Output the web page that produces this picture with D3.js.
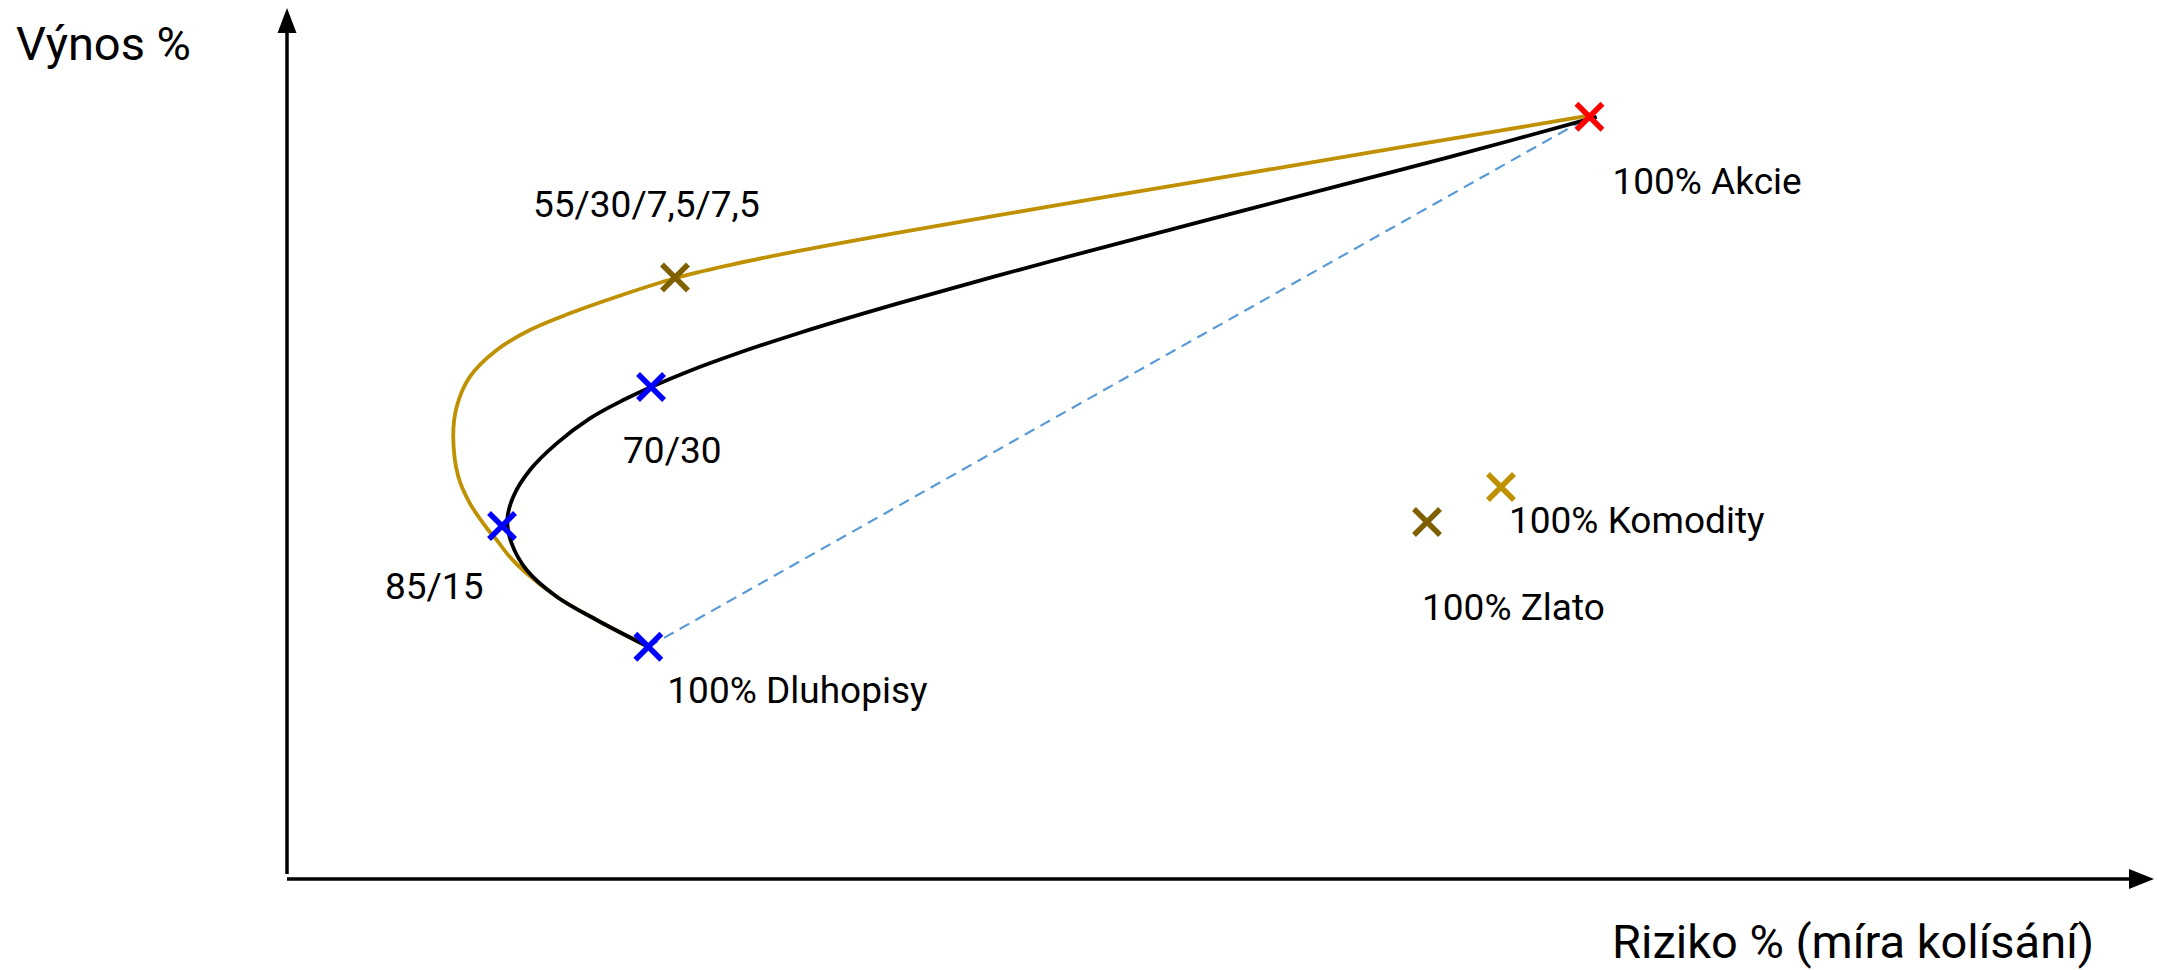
<!DOCTYPE html>
<html>
<head>
<meta charset="utf-8">
<script src="https://cdn.jsdelivr.net/npm/d3@7"></script>
<style>
  html, body { margin: 0; padding: 0; background: #fff; }
  svg { display: block; font-family: Roboto, "Noto Sans", sans-serif; }
</style>
</head>
<body>
<svg id="chart" width="2157" height="970"></svg>
<script>
// ---- Data (risk %, return %) on an abstract 0-100 scale ----
const axisTitles = { x: "Riziko % (míra kolísání)", y: "Výnos %" };

// Efficient frontier: bonds / stocks (black)
const frontierStocksBonds = [
  [19.93, 26.67], [17.08, 29.74], [14.88, 32.41], [13.22, 35.48], [12.39, 38.54],
  [12.15, 41.22], [12.48, 43.89], [13.40, 46.96], [14.88, 50.02], [16.71, 52.89],
  [18.55, 54.99], [20.12, 56.52], [22.23, 58.36], [24.43, 60.05], [28.30, 62.72],
  [33.81, 66.14], [42.08, 70.90], [50.36, 75.45], [58.63, 79.92], [64.15, 82.90],
  [72.24, 87.50]
];

// Frontier with commodities + gold (gold colour)
const frontierDiversified = [
  [19.93, 26.67], [17.08, 29.74], [14.88, 32.41], [13.10, 35.30], [12.20, 37.20],
  [11.57, 38.92], [11.10, 40.07], [10.09, 43.13], [9.45, 46.19], [9.17, 50.78],
  [9.36, 54.23], [10.09, 57.67], [11.57, 60.73], [13.40, 63.03], [15.61, 64.95],
  [18.19, 66.85], [21.40, 68.97], [24.43, 70.49], [28.30, 72.15], [33.81, 74.25],
  [42.08, 77.22], [50.36, 80.12], [58.63, 83.02], [66.91, 85.92], [72.04, 87.72]
];

// Straight (dashed) line bonds -> stocks
const directLine = [[19.93, 26.67], [71.84, 87.52]];

// Marked portfolios
const portfolioNames = ["100% Dluhopisy", "85/15", "70/30", "55/30/7,5/7,5", "100% Akcie", "100% Zlato", "100% Komodity"];
const portfolioRisk   = [19.93, 11.86, 20.08, 21.40, 71.84, 62.88, 66.96];
const portfolioReturn = [26.67, 40.53, 56.49, 69.06, 87.52, 40.99, 45.01];

// ---- Layout / style ----
const svg = d3.select("#chart");
const x = d3.scaleLinear().domain([0, 100]).range([287, 2100]);
const y = d3.scaleLinear().domain([0, 100]).range([879, 8]);
const xAxisTip = 2154;

const markerColor = {
  "100% Dluhopisy": "#0000ff", "85/15": "#0000ff", "70/30": "#0000ff",
  "55/30/7,5/7,5": "#7f6000", "100% Akcie": "#ff0000",
  "100% Zlato": "#7f6000", "100% Komodity": "#bf9000"
};
const labelOffset = {
  "100% Dluhopisy": [19, 56], "85/15": [-117, 73], "70/30": [-28, 76],
  "55/30/7,5/7,5": [-142, -60], "100% Akcie": [23, 77],
  "100% Zlato": [-5, 98], "100% Komodity": [8, 46]
};

// Axes (arrows)
const axisColor = "#000";
svg.append("line")
  .attr("x1", x(0)).attr("x2", x(0))
  .attr("y1", y(0) - 5).attr("y2", y(100) + 22)
  .attr("stroke", axisColor).attr("stroke-width", 3.5);
svg.append("path")
  .attr("d", `M${x(0)},${y(100)} L${x(0) - 9.5},${y(100) + 25} L${x(0) + 9.5},${y(100) + 25} Z`)
  .attr("fill", axisColor);
svg.append("line")
  .attr("x1", x(0)).attr("x2", xAxisTip - 22)
  .attr("y1", y(0)).attr("y2", y(0))
  .attr("stroke", axisColor).attr("stroke-width", 3.5);
svg.append("path")
  .attr("d", `M${xAxisTip},${y(0)} L${xAxisTip - 25},${y(0) - 10} L${xAxisTip - 25},${y(0) + 10} Z`)
  .attr("fill", axisColor);

svg.append("text")
  .attr("x", 16).attr("y", 60)
  .attr("font-size", 47).attr("fill", "#000")
  .text(axisTitles.y);
svg.append("text")
  .attr("x", 1612).attr("y", 958)
  .attr("font-size", 47).attr("fill", "#000")
  .text(axisTitles.x);

// Lines
const line = d3.line().x(d => x(d[0])).y(d => y(d[1]));
const curved = d3.line().x(d => x(d[0])).y(d => y(d[1])).curve(d3.curveCatmullRom.alpha(0.5));

svg.append("path").datum(directLine)
  .attr("d", line).attr("fill", "none")
  .attr("stroke", "#5b9bd5").attr("stroke-width", 2.2)
  .attr("stroke-dasharray", "11,7");

svg.append("path").datum(frontierDiversified)
  .attr("d", curved).attr("fill", "none")
  .attr("stroke", "#bf9000").attr("stroke-width", 3.8);

svg.append("path").datum(frontierStocksBonds)
  .attr("d", curved).attr("fill", "none")
  .attr("stroke", "#000").attr("stroke-width", 3.8);

// Markers
const pts = portfolioNames.map((n, i) => ({ name: n, r: portfolioRisk[i], v: portfolioReturn[i] }));
const s = 13;
const g = svg.append("g").selectAll("g").data(pts).join("g")
  .attr("transform", d => `translate(${x(d.r)},${y(d.v)})`);
g.append("path")
  .attr("d", `M${-s},${-s} L${s},${s} M${-s},${s} L${s},${-s}`)
  .attr("stroke", d => markerColor[d.name]).attr("stroke-width", 5.5)
  .attr("fill", "none");

// Labels
svg.append("g").selectAll("text").data(pts).join("text")
  .attr("x", d => x(d.r) + labelOffset[d.name][0])
  .attr("y", d => y(d.v) + labelOffset[d.name][1])
  .attr("font-size", 37).attr("fill", "#000")
  .text(d => d.name);
</script>
</body>
</html>
